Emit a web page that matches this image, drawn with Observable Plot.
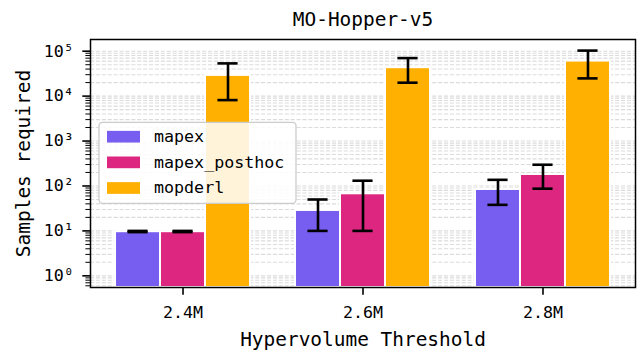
<!DOCTYPE html>
<html>
<head>
<meta charset="utf-8">
<script src="https://cdn.jsdelivr.net/npm/d3@7"></script>
<script src="https://cdn.jsdelivr.net/npm/@observablehq/plot@0.6"></script>
<style>
  html, body { margin: 0; padding: 0; background: #fff; }
  #chart { width: 640px; height: 356px; }
</style>
</head>
<body>
<div id="chart"></div>
<script>
// ---- data ----
const title = "MO-Hopper-v5";
const xTitle = "Hypervolume Threshold";
const yTitle = "Samples required";
const thresholds = ["2.4M", "2.6M", "2.8M"];
const seriesNames = ["mapex", "mapex_posthoc", "mopderl"];
const seriesColors = ["#785EF0", "#DC267F", "#FFB000"];

const mapexMean = [9.6, 28.5, 83.6];
const mapexLow = [9.4, 10, 38];
const mapexHigh = [10.0, 50, 137];

const posthocMean = [9.6, 67, 180];
const posthocLow = [9.4, 10, 87];
const posthocHigh = [10.0, 131, 297];

const mopderlMean = [28900, 42900, 60300];
const mopderlLow = [8150, 19900, 24800];
const mopderlHigh = [53500, 70200, 103000];

const yMajorTicks = [1, 10, 100, 1000, 10000, 100000];
const yTickLabels = ["10⁰", "10¹", "10²", "10³", "10⁴", "10⁵"];

// ---- table built from the arrays ----
const seriesData = [
  [mapexMean, mapexLow, mapexHigh],
  [posthocMean, posthocLow, posthocHigh],
  [mopderlMean, mopderlLow, mopderlHigh]
];
const barWidth = 0.25;
const capHalf = 0.056;
const rows = [];
seriesNames.forEach((name, j) => {
  thresholds.forEach((t, i) => {
    rows.push({
      threshold: t,
      series: name,
      x: i + (j - 1) * barWidth,
      mean: seriesData[j][0][i],
      low: seriesData[j][1][i],
      high: seriesData[j][2][i]
    });
  });
});

const font = "DejaVu Sans Mono";
const yDomain = [0.55, 1.82e5];
const isDecade = t => Math.abs(Math.log10(t) - Math.round(Math.log10(t))) < 1e-9;
const minorTicks = d3.scaleLog().domain(yDomain).ticks().filter(t => !isDecade(t));

function legendMark(index, scales, values, dims) {
  const ml = (dims && dims.marginLeft != null) ? dims.marginLeft : 90;
  const mt = (dims && dims.marginTop != null) ? dims.marginTop : 39;
  const x0 = ml + 9, y0 = mt + 83.3;
  const g = d3.create("svg:g")
    .attr("font-family", font)
    .attr("font-size", 16.67)
    .attr("text-anchor", "start");
  g.append("rect")
    .attr("x", x0).attr("y", y0)
    .attr("width", 197).attr("height", 81)
    .attr("rx", 3.5)
    .attr("fill", "white").attr("fill-opacity", 0.85)
    .attr("stroke", "#cccccc").attr("stroke-width", 1.3);
  seriesNames.forEach((name, j) => {
    const cy = y0 + 14.4 + j * 25.65;
    g.append("rect")
      .attr("x", x0 + 8).attr("y", cy - 5.85)
      .attr("width", 33).attr("height", 11.7)
      .attr("fill", seriesColors[j]);
    g.append("text")
      .attr("x", x0 + 55).attr("y", cy)
      .attr("dy", "0.32em")
      .attr("text-anchor", "start")
      .attr("fill", "black")
      .text(name);
  });
  return g.node();
}

const chart = Plot.plot({
  width: 640,
  height: 356,
  marginTop: 39,
  marginRight: 5,
  marginBottom: 69,
  marginLeft: 90,
  style: { fontFamily: font, fontSize: "16.67px", background: "white", color: "black" },
  x: { type: "linear", domain: [-0.514, 2.514] },
  y: { type: "log", domain: yDomain },
  color: { domain: seriesNames, range: seriesColors },
  marks: [
    Plot.gridY(minorTicks.concat(yMajorTicks), {
      stroke: "#b0b0b0", strokeOpacity: 0.45, strokeWidth: 1.1, strokeDasharray: "4.1,1.8"
    }),
    Plot.rectY(rows, {
      x1: d => d.x - barWidth / 2,
      x2: d => d.x + barWidth / 2,
      y1: () => yDomain[0],
      y2: "mean",
      fill: "series",
      stroke: "white",
      strokeWidth: 2
    }),
    Plot.ruleX(rows, { x: "x", y1: "low", y2: "high", stroke: "black", strokeWidth: 2.6 }),
    Plot.ruleY(rows, { x1: d => d.x - capHalf, x2: d => d.x + capHalf, y: "low", stroke: "black", strokeWidth: 2.6 }),
    Plot.ruleY(rows, { x1: d => d.x - capHalf, x2: d => d.x + capHalf, y: "high", stroke: "black", strokeWidth: 2.6 }),
    Plot.axisX([0, 1, 2], {
      tickFormat: i => thresholds[i],
      tickSize: 7.7, tickPadding: 10.5, strokeWidth: 1.6,
      label: null, fontSize: 16.67
    }),
    Plot.axisY(yMajorTicks, {
      tickFormat: d => yTickLabels[yMajorTicks.indexOf(d)],
      tickSize: 7.7, tickPadding: 9, strokeWidth: 1.6,
      label: null, fontSize: 16.67
    }),
    Plot.axisY(minorTicks, {
      tickFormat: () => "", tickSize: 4.6, strokeWidth: 1, label: null
    }),
    Plot.frame({ stroke: "black", strokeWidth: 1.5 }),
    Plot.text([title], { text: d => d, frameAnchor: "top", lineAnchor: "bottom", dy: -14, fontSize: 19.44 }),
    Plot.text([xTitle], { text: d => d, frameAnchor: "bottom", lineAnchor: "bottom", dy: 58.5, fontSize: 19.44 }),
    Plot.text([yTitle], { text: d => d, frameAnchor: "left", textAnchor: "middle", lineAnchor: "bottom", rotate: -90, dx: -60.5, fontSize: 19.44 }),
    legendMark
  ]
});

document.getElementById("chart").appendChild(chart);
</script>
</body>
</html>
